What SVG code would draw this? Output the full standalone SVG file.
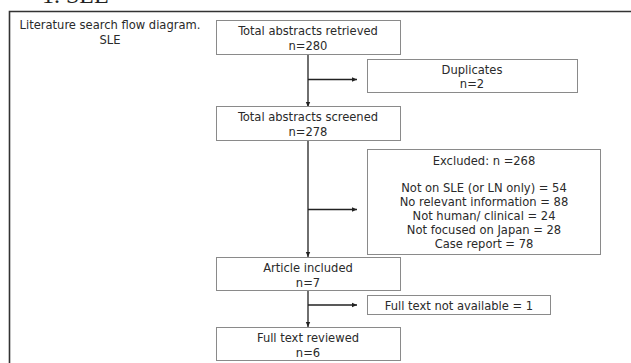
<svg xmlns="http://www.w3.org/2000/svg" width="631" height="363" viewBox="0 0 631 363">
  <style>
    .box { fill: #ffffff; stroke: #8a8a8a; stroke-width: 1; }
    .lbl { font-family: "DejaVu Sans Condensed", "DejaVu Sans", sans-serif; font-size: 12.8px; fill: #2a2a2a; text-anchor: middle; }
    .edge { fill: none; stroke: #222222; stroke-width: 1.3; }
  </style>
  <defs>
    <marker id="arrow" markerWidth="6" markerHeight="6" refX="5" refY="3" orient="auto" markerUnits="userSpaceOnUse">
      <path d="M0,0.8 L5,3 L0,5.2 Z" fill="#222222"/>
    </marker>
  </defs>

  <rect width="631" height="363" fill="#ffffff"/>

  <!-- heading above the frame, cut at the top edge -->
  <text x="42" y="3" font-family="Liberation Serif, serif" font-size="24" fill="#222222">1. SLE</text>

  <!-- outer frame -->
  <path d="M9.5,363 L9.5,11.5 L631,11.5" fill="none" stroke="#333333" stroke-width="1.6"/>

  <g id="title">
    <text class="lbl" x="110" y="29">Literature search flow diagram.</text>
    <text class="lbl" x="110" y="44">SLE</text>
  </g>

  <g id="connectors">
    <path class="edge" d="M308,54 L308,107" marker-end="url(#arrow)"/>
    <path class="edge" d="M308,79.5 L357,79.5" marker-end="url(#arrow)"/>
    <path class="edge" d="M308,140 L308,257" marker-end="url(#arrow)"/>
    <path class="edge" d="M308,209.5 L357,209.5" marker-end="url(#arrow)"/>
    <path class="edge" d="M308,291 L308,327" marker-end="url(#arrow)"/>
    <path class="edge" d="M308,305 L357,305" marker-end="url(#arrow)"/>
  </g>

  <g id="retrieved">
    <rect class="box" x="216.5" y="20.5" width="184" height="34"/>
    <text class="lbl" x="308" y="35">Total abstracts retrieved</text>
    <text class="lbl" x="308" y="50">n=280</text>
  </g>

  <g id="duplicates">
    <rect class="box" x="367.5" y="59.5" width="210" height="33"/>
    <text class="lbl" x="472" y="74">Duplicates</text>
    <text class="lbl" x="472" y="88">n=2</text>
  </g>

  <g id="screened">
    <rect class="box" x="216.5" y="106.5" width="184" height="34"/>
    <text class="lbl" x="308" y="121">Total abstracts screened</text>
    <text class="lbl" x="308" y="136">n=278</text>
  </g>

  <g id="excluded">
    <rect class="box" x="367.5" y="149.5" width="233" height="105"/>
    <text class="lbl" x="484" y="165">Excluded: n =268</text>
    <text class="lbl" x="484" y="192">Not on SLE (or LN only) = 54</text>
    <text class="lbl" x="484" y="206">No relevant information = 88</text>
    <text class="lbl" x="484" y="220">Not human/ clinical = 24</text>
    <text class="lbl" x="484" y="234">Not focused on Japan = 28</text>
    <text class="lbl" x="484" y="248">Case report = 78</text>
  </g>

  <g id="included">
    <rect class="box" x="216.5" y="257.5" width="184" height="33"/>
    <text class="lbl" x="308" y="272">Article included</text>
    <text class="lbl" x="308" y="287">n=7</text>
  </g>

  <g id="not-available">
    <rect class="box" x="367.5" y="295.5" width="183" height="19"/>
    <text class="lbl" x="459" y="309.5">Full text not available = 1</text>
  </g>

  <g id="reviewed">
    <rect class="box" x="216.5" y="327.5" width="184" height="33"/>
    <text class="lbl" x="308" y="342">Full text reviewed</text>
    <text class="lbl" x="308" y="357">n=6</text>
  </g>
</svg>
